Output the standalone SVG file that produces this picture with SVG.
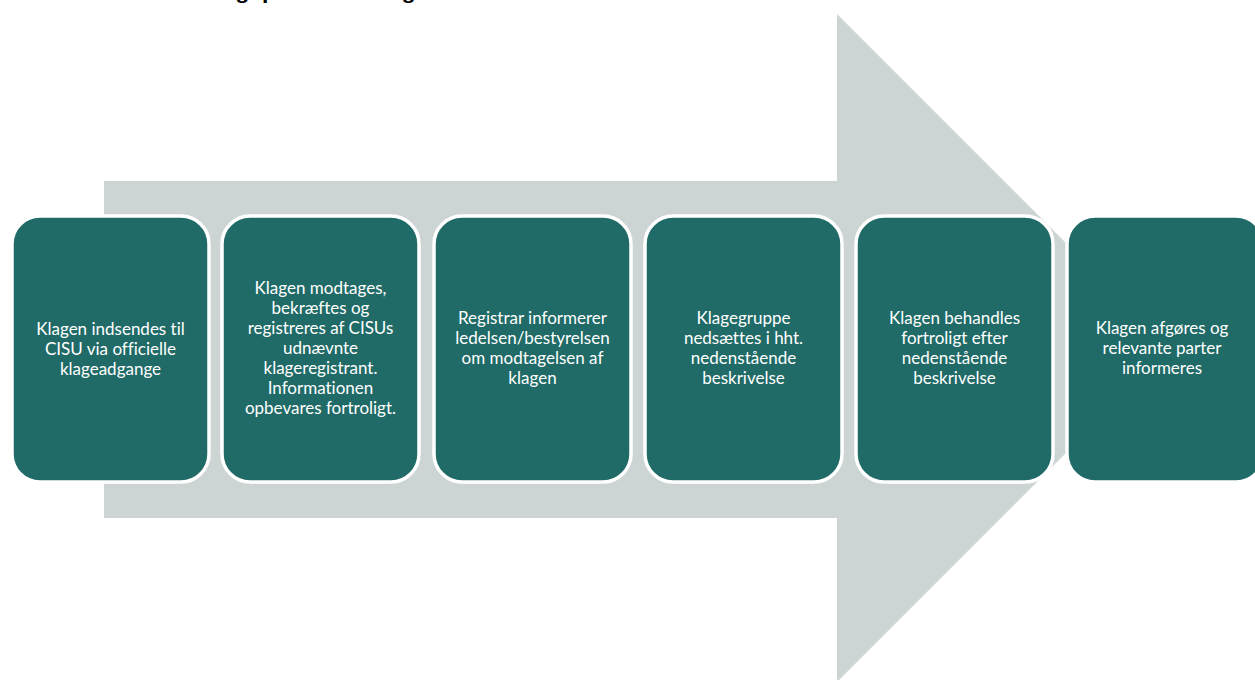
<svg xmlns="http://www.w3.org/2000/svg" width="1255" height="680" viewBox="0 0 1255 680">
  <style>
    .box { fill: #206B67; stroke: #FFFFFF; stroke-width: 3.5; }
    .lbl { fill: #FFFFFF; font-family: Lato, "Liberation Sans", sans-serif; font-size: 17px; text-anchor: middle; font-variant-ligatures: none; }
    .title { fill: #000000; font-family: "Liberation Sans", sans-serif; font-size: 19px; font-weight: bold; }
  </style>
  <rect x="0" y="0" width="1255" height="680" fill="#FFFFFF"/>
  <text class="title" x="125" y="-1.5" textLength="312" lengthAdjust="spacingAndGlyphs">Behandlingsproces af klager</text>
  <g id="connectors">
    <polygon points="104,181 837,181 837,14 1171,348 837,682 837,518 104,518" fill="#CDD5D4"/>
  </g>
  <g id="node1">
    <rect class="box" x="12" y="216" width="197" height="266" rx="28" ry="28"/>
    <text class="lbl" x="110.5" y="335">Klagen indsendes til</text>
    <text class="lbl" x="110.5" y="355">CISU via officielle</text>
    <text class="lbl" x="110.5" y="375">klageadgange</text>
  </g>
  <g id="node2">
    <rect class="box" x="222" y="216" width="197" height="266" rx="28" ry="28"/>
    <text class="lbl" x="320.5" y="294">Klagen modtages,</text>
    <text class="lbl" x="320.5" y="314">bekræftes og</text>
    <text class="lbl" x="320.5" y="334">registreres af CISUs</text>
    <text class="lbl" x="320.5" y="354">udnævnte</text>
    <text class="lbl" x="320.5" y="374">klageregistrant.</text>
    <text class="lbl" x="320.5" y="394">Informationen</text>
    <text class="lbl" x="320.5" y="414">opbevares fortroligt.</text>
  </g>
  <g id="node3">
    <rect class="box" x="434" y="216" width="197" height="266" rx="28" ry="28"/>
    <text class="lbl" x="532.5" y="324">Registrar informerer</text>
    <text class="lbl" x="532.5" y="344">ledelsen/bestyrelsen</text>
    <text class="lbl" x="532.5" y="364">om modtagelsen af</text>
    <text class="lbl" x="532.5" y="384">klagen</text>
  </g>
  <g id="node4">
    <rect class="box" x="645" y="216" width="197" height="266" rx="28" ry="28"/>
    <text class="lbl" x="743.5" y="324">Klagegruppe</text>
    <text class="lbl" x="743.5" y="344">nedsættes i hht.</text>
    <text class="lbl" x="743.5" y="364">nedenstående</text>
    <text class="lbl" x="743.5" y="384">beskrivelse</text>
  </g>
  <g id="node5">
    <rect class="box" x="856" y="216" width="197" height="266" rx="28" ry="28"/>
    <text class="lbl" x="954.5" y="324">Klagen behandles</text>
    <text class="lbl" x="954.5" y="344">fortroligt efter</text>
    <text class="lbl" x="954.5" y="364">nedenstående</text>
    <text class="lbl" x="954.5" y="384">beskrivelse</text>
  </g>
  <g id="node6">
    <rect class="box" x="1067" y="216" width="197" height="266" rx="28" ry="28"/>
    <text class="lbl" x="1162" y="334">Klagen afgøres og</text>
    <text class="lbl" x="1162" y="354">relevante parter</text>
    <text class="lbl" x="1162" y="374">informeres</text>
  </g>
</svg>
